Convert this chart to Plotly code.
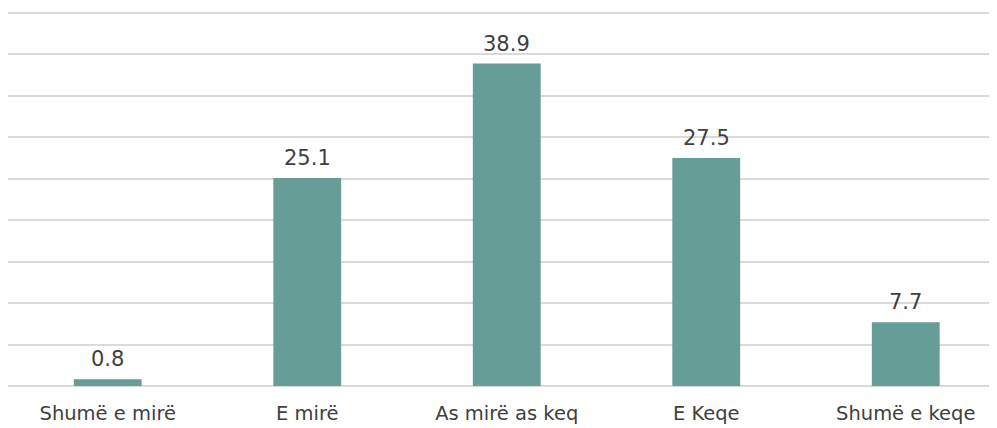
import plotly.graph_objects as go

# Data
categories = ["Shumë e mirë", "E mirë", "As mirë as keq", "E Keqe", "Shumë e keqe"]
values = [0.8, 25.1, 38.9, 27.5, 7.7]
value_labels = ["0.8", "25.1", "38.9", "27.5", "7.7"]

BAR_COLOR = "#669d97"
TEXT_COLOR = "#404040"
FONT = "'DejaVu Sans', sans-serif"

fig = go.Figure()
fig.add_trace(go.Bar(
    x=categories,
    y=values,
    width=0.34,
    marker=dict(color=BAR_COLOR, line=dict(width=0)),
    hoverinfo="x+y",
))

# value labels above bars
for cat, val, lab in zip(categories, values, value_labels):
    fig.add_annotation(
        x=cat, y=val, text=lab, showarrow=False,
        yanchor="bottom", yshift=6,
        font=dict(family=FONT, size=21, color=TEXT_COLOR),
    )

fig.update_layout(
    width=997, height=428,
    margin=dict(l=0, r=0, t=3, b=50),
    paper_bgcolor="white", plot_bgcolor="white",
    showlegend=False,
    font=dict(family=FONT, color=TEXT_COLOR),
    xaxis=dict(
        range=[-0.5, 4.4975],
        showgrid=False, zeroline=False, showline=False,
        ticks="outside", ticklen=10, tickcolor="rgba(0,0,0,0)",
        tickfont=dict(family=FONT, size=19.5, color=TEXT_COLOR),
    ),
    yaxis=dict(
        range=[0, 45.24], dtick=5,
        showgrid=True, gridcolor="#d9d9d9", gridwidth=1.5,
        zeroline=True, zerolinecolor="#d9d9d9", zerolinewidth=1.5,
        showticklabels=False, showline=False,
    ),
)

fig.write_html("out.html")
